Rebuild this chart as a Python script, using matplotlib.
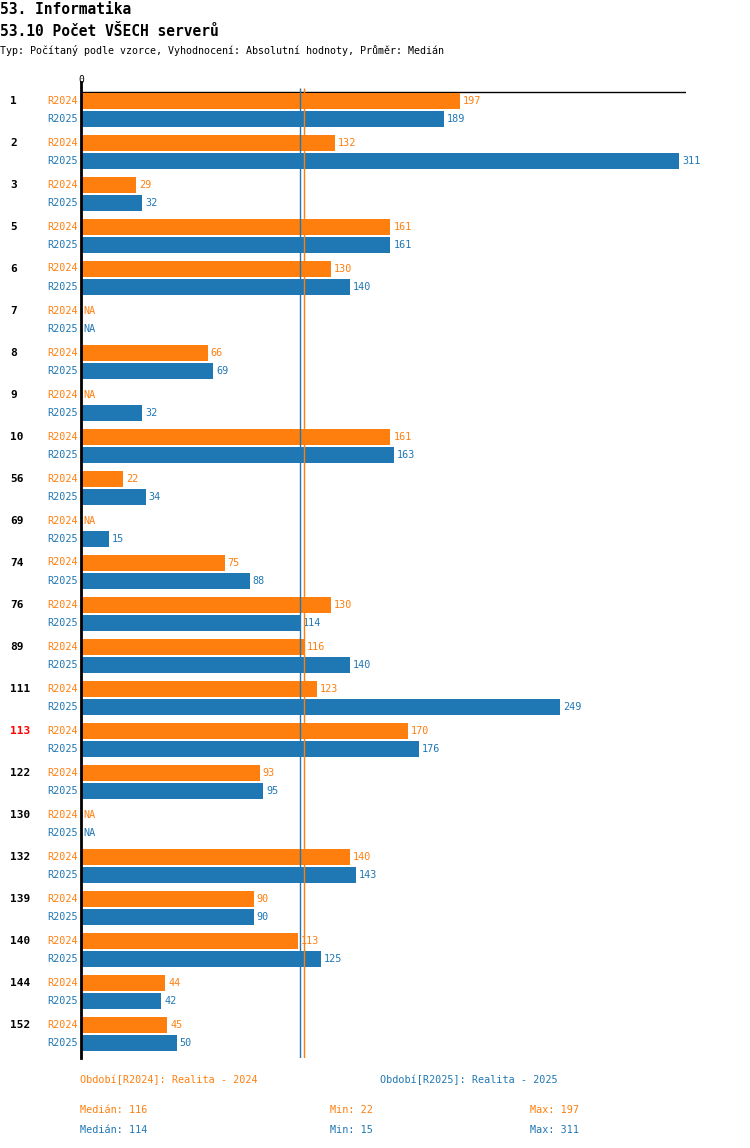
import matplotlib
matplotlib.use("Agg")
from matplotlib import pyplot as plt

groups = ["1", "2", "3", "5", "6", "7", "8", "9", "10", "56", "69", "74", "76", "89",
          "111", "113", "122", "130", "132", "139", "140", "144", "152"]
r2024 = [197, 132, 29, 161, 130, None, 66, None, 161, 22, None, 75, 130, 116, 123,
         170, 93, None, 140, 90, 113, 44, 45]
r2025 = [189, 311, 32, 161, 140, None, 69, 32, 163, 34, 15, 88, 114, 140, 249,
         176, 95, None, 143, 90, 125, 42, 50]
series_names = ["R2024", "R2025"]
median_vals = [116, 114]
min_vals = [22, 15]
max_vals = [197, 311]
highlight = "113"

orange = "#ff7f0e"
blue = "#1f77b4"
colors = [orange, blue]

W, H = 750, 1148
fig = plt.figure(figsize=(W / 100, H / 100), dpi=100)
mono = "DejaVu Sans Mono"

px_per_unit = 1.925
x_left, x_right = 80.5, 686
y_top, y_bot = 82, 1058
ax = fig.add_axes([x_left / W, 1 - y_bot / H, (x_right - x_left) / W, (y_bot - y_top) / H])
xmax = (x_right - x_left) / px_per_unit
ax.set_xlim(0, xmax)
ax.set_ylim(y_bot, y_top)
for s in ["top", "right", "bottom"]:
    ax.spines[s].set_visible(False)
ax.spines["left"].set_linewidth(2)
ax.set_xticks([])
ax.set_yticks([])

ax.hlines(92, 0, xmax, color="black", lw=1)

off = 1.5
for i, g in enumerate(groups):
    for j, vals in enumerate([r2024, r2025]):
        y = 100.5 + i * 42 + j * 18
        v = vals[i]
        c = colors[j]
        if v is None:
            ax.text(off, y, "NA", color=c, fontsize=7.3, family=mono, va="center", ha="left")
        else:
            ax.barh(y, v, height=16, color=c, zorder=2)
            ax.text(v + off, y, str(v), color=c, fontsize=7.3, family=mono, va="center", ha="left")
        fig.text(78 / W, 1 - y / H, series_names[j], color=c, fontsize=7.3, family=mono,
                 va="center", ha="right")
    gy = 101 + i * 42
    fig.text(10 / W, 1 - gy / H, g, color="red" if g == highlight else "black",
             fontsize=8, family=mono, fontweight="bold", va="center", ha="left")

ax.vlines(median_vals[1], 88, y_bot, color=blue, lw=1, zorder=3)
ax.vlines(median_vals[0], 88, y_bot, color=orange, lw=1, zorder=3)

fig.text(81 / W, 1 - 80 / H, "0", fontsize=7, family=mono, ha="center", va="center")

fig.text(0, 1 - 9 / H, "53. Informatika", fontsize=10.5, family=mono, fontweight="bold",
         va="center", ha="left")
fig.text(0, 1 - 31 / H, "53.10 Počet VŠECH serverů", fontsize=10.5, family=mono,
         fontweight="bold", va="center", ha="left")
fig.text(0, 1 - 51 / H,
         "Typ: Počítaný podle vzorce, Vyhodnocení: Absolutní hodnoty, Průměr: Medián",
         fontsize=7.2, family=mono, va="center", ha="left")

fig.text(80 / W, 1 - 1080 / H, "Období[R2024]: Realita - 2024", color=orange,
         fontsize=7.3, family=mono, va="center", ha="left")
fig.text(380 / W, 1 - 1080 / H, "Období[R2025]: Realita - 2025", color=blue,
         fontsize=7.3, family=mono, va="center", ha="left")
for j in range(2):
    y = 1 - (1110 + j * 20) / H
    fig.text(80 / W, y, "Medián: %d" % median_vals[j], color=colors[j], fontsize=7.3,
             family=mono, va="center", ha="left")
    fig.text(330 / W, y, "Min: %d" % min_vals[j], color=colors[j], fontsize=7.3,
             family=mono, va="center", ha="left")
    fig.text(530 / W, y, "Max: %d" % max_vals[j], color=colors[j], fontsize=7.3,
             family=mono, va="center", ha="left")

fig.savefig("out.png", dpi=100)
